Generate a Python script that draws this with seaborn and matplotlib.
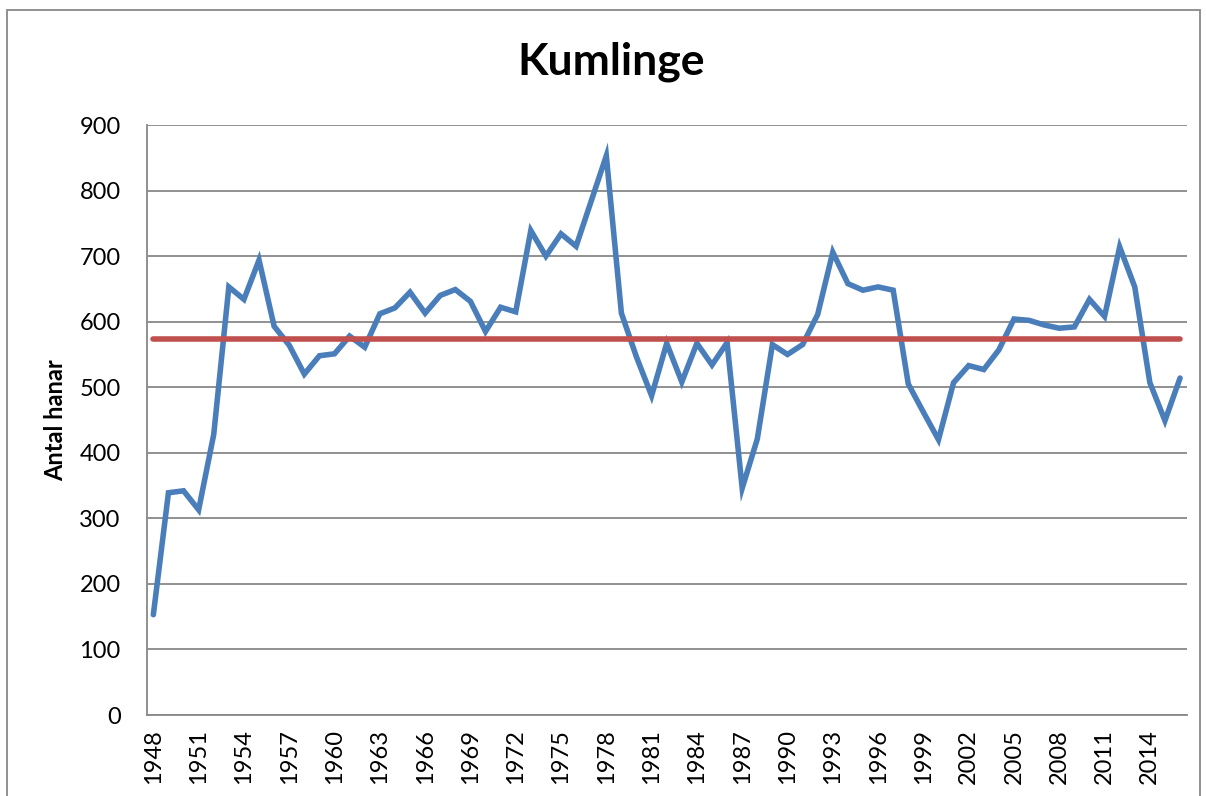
import matplotlib
matplotlib.use("Agg")
import matplotlib.pyplot as plt
import seaborn as sns
import pandas as pd
from matplotlib.patches import Rectangle

years = list(range(1948, 2017))
hanar = [153, 339, 342, 313, 428, 653, 634, 694, 593, 564,
         520, 548, 551, 578, 561, 612, 621, 645, 613, 640,
         649, 631, 585, 622, 615, 739, 700, 734, 715, 784,
         853, 613, 546, 487, 567, 508, 567, 534, 568, 346,
         421, 565, 550, 565, 611, 706, 658, 648, 653, 648,
         505, 462, 420, 507, 533, 527, 557, 604, 602, 595,
         590, 592, 634, 608, 714, 653, 507, 449, 514]
medel = [573] * len(years)
tick_years = years[::3]
yticks = [0, 100, 200, 300, 400, 500, 600, 700, 800, 900]

df = pd.DataFrame({"year": years, "hanar": hanar, "medel": medel})

sns.set_theme(style="white")
plt.rcParams["font.family"] = ["Lato", "DejaVu Sans"]
plt.rcParams["text.color"] = "black"
plt.rcParams["xtick.color"] = "black"
plt.rcParams["ytick.color"] = "black"
plt.rcParams["axes.labelcolor"] = "black"

W, H = 1206, 796
fig = plt.figure(figsize=(W / 100, H / 100), dpi=100)
ax = fig.add_axes([147 / W, 1 - 715 / H, (1187 - 147) / W, (715 - 125) / H])

sns.lineplot(data=df, x="year", y="hanar", ax=ax, color="#4A7EBB", linewidth=4.0,
             solid_capstyle="round", solid_joinstyle="miter")
sns.lineplot(data=df, x="year", y="medel", ax=ax, color="#C0504D", linewidth=4.0,
             solid_capstyle="round")

ax.set_xlim(years[0] - 0.42, years[-1] + 0.46)
ax.set_ylim(0, 900)
ax.set_yticks(yticks)
ax.set_yticklabels([str(v) for v in yticks], fontsize=17)
ax.set_xticks(tick_years)
ax.set_xticklabels([str(y) for y in tick_years], rotation=90, fontsize=17)
ax.tick_params(axis="x", length=0, pad=10)
ax.tick_params(axis="y", length=0, pad=19)
ax.yaxis.grid(True, color="#888888", linewidth=1.3)
ax.xaxis.grid(False)
ax.set_axisbelow(True)
for s in ["top", "right"]:
    ax.spines[s].set_visible(False)
for s in ["left", "bottom"]:
    ax.spines[s].set_color("#888888")
    ax.spines[s].set_linewidth(1.3)
ax.set_xlabel("")
ax.set_ylabel("Antal hanar", fontsize=17, fontweight="bold", labelpad=9)

fig.text(611 / W, 1 - 62 / H, "Kumlinge", ha="center", va="center",
         fontsize=32, fontweight="bold")

fig.patches.append(Rectangle((7 / W, -0.05), (1200 - 7) / W, 1.05 - 10 / H,
                             transform=fig.transFigure, fill=False,
                             edgecolor="#888888", linewidth=1.3))

fig.savefig("out.png", dpi=100)
